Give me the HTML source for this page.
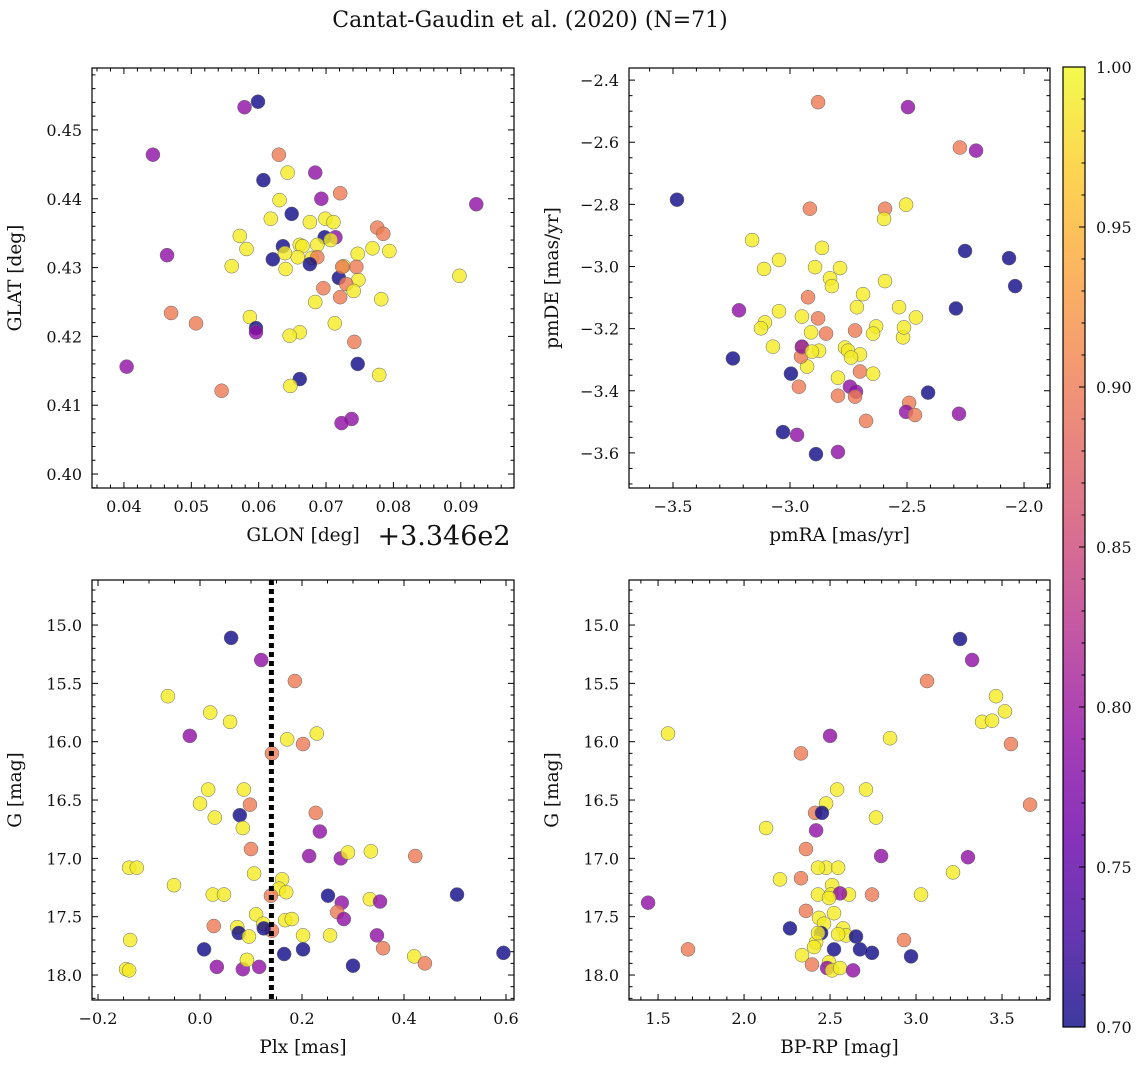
<!DOCTYPE html>
<html><head><meta charset="utf-8"><style>
body{margin:0;background:#fff;}
svg text{font-family:"DejaVu Serif","Liberation Serif",serif;fill:#111;}
</style></head><body>
<svg id="fig" width="1148" height="1067" xmlns="http://www.w3.org/2000/svg">
<defs>
<linearGradient id="plasma" x1="0" y1="1" x2="0" y2="0">
<stop offset="0" stop-color="#0d0887"/><stop offset="0.1" stop-color="#41049d"/><stop offset="0.2" stop-color="#6a00a8"/><stop offset="0.3" stop-color="#8f0da4"/><stop offset="0.4" stop-color="#b12a90"/><stop offset="0.5" stop-color="#cc4778"/><stop offset="0.6" stop-color="#e16462"/><stop offset="0.7" stop-color="#f2844b"/><stop offset="0.8" stop-color="#fca636"/><stop offset="0.9" stop-color="#fcce25"/><stop offset="1" stop-color="#f0f921"/>
</linearGradient>
</defs>
<text x="530" y="27" font-size="22" text-anchor="middle">Cantat-Gaudin et al. (2020) (N=71)</text>
</svg>
<script>
// ---- Panel 1: GLON vs GLAT (GLON offset +334.6) ----
const glon = [.0599,.0579,.0443,.0630,.0607,.0923,.0684,.0643,.0721,.0693,.0631,.0649,.0618,.0699,.0676,.0572,.0711,.0714,.0698,.0636,.0661,.0665,.0687,.0707,.0464,.0582,.0621,.0639,.0658,.0679,.0769,.0776,.0785,.0794,.0747,.0726,.0560,.0640,.0687,.0676,.0719,.0748,.0730,.0696,.0724,.0745,.0741,.0898,.0721,.0684,.0782,.0470,.0507,.0587,.0596,.0596,.0661,.0646,.0742,.0713,.0404,.0747,.0661,.0779,.0545,.0647,.0738,.0723];
const glat = [.4541,.4533,.4464,.4464,.4427,.4392,.4438,.4438,.4408,.4400,.4398,.4378,.4371,.4371,.4366,.4346,.4366,.4344,.4344,.4331,.4333,.4331,.4333,.4340,.4318,.4327,.4312,.4321,.4315,.4314,.4328,.4358,.4349,.4324,.4320,.4302,.4302,.4298,.4315,.4305,.4285,.4282,.4276,.4270,.4301,.4301,.4266,.4288,.4257,.4250,.4254,.4234,.4219,.4228,.4212,.4206,.4206,.4201,.4192,.4219,.4156,.4160,.4138,.4144,.4121,.4128,.4080,.4074];
const prob1 = [.70,.79,.79,.90,.70,.79,.79,.99,.90,.79,.99,.70,.99,.99,.99,.99,.99,.79,.70,.70,.99,.99,.99,.99,.79,.99,.70,.99,.99,.99,.99,.90,.90,.99,.99,.99,.99,.99,.90,.70,.70,.99,.90,.90,.90,.90,.99,.99,.90,.99,.99,.90,.90,.99,.70,.79,.99,.99,.90,.99,.79,.70,.70,.99,.90,.99,.79,.79];
// ---- Panel 2: proper motions ----
const pmra = [-3.483,-2.880,-2.496,-2.274,-2.205,-2.915,-2.594,-2.504,-2.598,-3.162,-2.252,-2.064,-2.038,-2.863,-3.047,-3.111,-2.893,-2.786,-2.829,-2.821,-2.594,-2.688,-2.923,-2.534,-2.462,-2.291,-3.218,-3.047,-3.107,-2.949,-2.880,-2.714,-2.846,-3.124,-2.910,-2.722,-2.632,-2.517,-2.513,-2.645,-3.244,-3.073,-2.949,-2.876,-2.765,-2.752,-2.927,-2.701,-2.953,-2.701,-2.795,-2.645,-2.949,-2.996,-2.962,-2.744,-2.718,-2.722,-2.410,-2.491,-2.504,-3.030,-2.466,-2.675,-2.278,-2.970,-2.889,-2.795,-2.795,-2.739,-2.906];
const pmde = [-2.785,-2.471,-2.487,-2.617,-2.627,-2.814,-2.814,-2.801,-2.847,-2.915,-2.950,-2.973,-3.063,-2.940,-2.979,-3.008,-3.002,-3.005,-3.038,-3.063,-3.047,-3.089,-3.099,-3.131,-3.164,-3.135,-3.141,-3.144,-3.180,-3.161,-3.167,-3.131,-3.216,-3.199,-3.212,-3.206,-3.193,-3.228,-3.196,-3.216,-3.296,-3.258,-3.261,-3.271,-3.261,-3.271,-3.322,-3.283,-3.290,-3.338,-3.358,-3.345,-3.258,-3.345,-3.387,-3.387,-3.403,-3.419,-3.406,-3.439,-3.468,-3.533,-3.478,-3.497,-3.474,-3.542,-3.604,-3.597,-3.416,-3.293,-3.274];
const prob2 = [.70,.90,.79,.90,.79,.90,.90,.99,.99,.99,.70,.70,.70,.99,.99,.99,.99,.99,.99,.99,.99,.99,.90,.99,.99,.70,.79,.99,.99,.99,.90,.99,.90,.99,.99,.90,.99,.99,.99,.99,.70,.99,.99,.99,.99,.99,.99,.99,.90,.90,.99,.99,.79,.70,.90,.79,.79,.90,.70,.90,.79,.70,.90,.90,.79,.79,.70,.79,.90,.99,.99];
// ---- Panel 3: parallax vs G ----
const plx = [.061,.120,.186,-.063,.020,.059,-.020,.171,.229,.202,.141,.016,.086,.000,.029,.078,.098,.084,.227,.235,.100,.214,-.139,-.124,-.051,.106,.161,.155,.276,.290,.335,.422,.025,.047,.139,.169,.251,.333,.504,.278,.353,.269,.282,.110,.167,.180,.124,.027,.073,.076,.096,.141,.202,.255,.125,.347,-.137,.008,.202,.165,.359,-.145,-.139,.033,.084,.116,.092,.300,.420,.441,.595];
const gmag3 = [15.11,15.30,15.48,15.61,15.75,15.83,15.95,15.98,15.93,16.02,16.10,16.41,16.41,16.53,16.65,16.63,16.54,16.74,16.61,16.77,16.92,16.98,17.08,17.08,17.23,17.13,17.18,17.26,17.00,16.95,16.94,16.98,17.31,17.31,17.32,17.29,17.32,17.35,17.31,17.38,17.37,17.46,17.52,17.48,17.53,17.52,17.56,17.58,17.59,17.64,17.67,17.62,17.66,17.66,17.60,17.66,17.70,17.78,17.78,17.82,17.77,17.95,17.96,17.93,17.95,17.93,17.87,17.92,17.84,17.90,17.81];
const prob3 = [.70,.79,.90,.99,.99,.99,.79,.99,.99,.90,.90,.99,.99,.99,.99,.70,.90,.99,.90,.79,.90,.79,.99,.99,.99,.99,.99,.99,.79,.99,.99,.90,.99,.99,.90,.99,.70,.99,.70,.79,.79,.90,.79,.99,.99,.99,.99,.90,.99,.70,.99,.90,.99,.99,.70,.79,.99,.70,.70,.70,.90,.99,.99,.79,.79,.79,.99,.70,.99,.90,.70];
const plxCut = [0.14];
// ---- Panel 4: colour-magnitude ----
const bprp = [3.256,3.326,3.064,3.465,3.517,3.384,3.442,3.552,1.558,2.500,2.849,2.331,2.541,2.709,2.477,3.663,2.767,2.128,2.413,2.453,2.419,2.360,2.797,3.302,3.215,2.477,2.430,2.547,2.209,2.512,2.506,2.430,2.610,2.558,2.331,2.744,2.494,3.029,2.360,2.436,2.465,2.576,2.523,2.448,2.593,2.547,2.419,2.430,2.651,2.407,2.267,2.930,1.442,1.674,2.523,2.674,2.744,2.337,2.395,2.494,2.483,2.512,2.558,2.634,2.971];
const gmag4 = [15.12,15.30,15.48,15.61,15.74,15.83,15.82,16.02,15.93,15.95,15.97,16.10,16.41,16.41,16.53,16.54,16.65,16.74,16.61,16.61,16.76,16.92,16.98,16.99,17.12,17.08,17.08,17.08,17.18,17.23,17.31,17.31,17.31,17.30,17.17,17.31,17.34,17.31,17.45,17.51,17.56,17.60,17.47,17.64,17.66,17.65,17.72,17.64,17.67,17.76,17.60,17.70,17.38,17.78,17.78,17.78,17.81,17.83,17.91,17.89,17.94,17.96,17.94,17.96,17.84];
const prob4 = [.70,.79,.90,.99,.99,.99,.99,.90,.99,.79,.99,.90,.99,.99,.99,.90,.99,.99,.90,.70,.79,.90,.79,.79,.99,.99,.99,.99,.99,.99,.99,.99,.99,.79,.90,.90,.99,.99,.90,.99,.99,.99,.99,.70,.99,.99,.99,.99,.70,.99,.70,.90,.79,.90,.70,.70,.70,.99,.90,.99,.79,.99,.99,.79,.70];
const xt1=[0.04,0.05,0.06,0.07,0.08,0.09], yt1=[0.40,0.41,0.42,0.43,0.44,0.45];
const xt2=[-3.5,-3.0,-2.5,-2.0], yt2=[-3.6,-3.4,-3.2,-3.0,-2.8,-2.6,-2.4];
const xt3=[-0.2,0.0,0.2,0.4,0.6], yt34=[15.0,15.5,16.0,16.5,17.0,17.5,18.0];
const xt4=[1.5,2.0,2.5,3.0,3.5];
const cbTicks=[0.70,0.75,0.80,0.85,0.90,0.95,1.00];

const NS="http://www.w3.org/2000/svg";
const svg=document.getElementById('fig');
function mk(tag,attrs,parent){const e=document.createElementNS(NS,tag);for(const k in attrs)e.setAttribute(k,attrs[k]);(parent||svg).appendChild(e);return e;}
const stops=['#0d0887','#41049d','#6a00a8','#8f0da4','#b12a90','#cc4778','#e16462','#f2844b','#fca636','#fcce25','#f0f921'];
function hex(h){return [1,3,5].map(i=>parseInt(h.substr(i,2),16));}
function cmap(v){let t=Math.max(0,Math.min(1,(v-0.7)/0.3))*10;const i=Math.min(9,Math.floor(t)),f=t-i;const a=hex(stops[i]),b=hex(stops[i+1]);return 'rgb('+a.map((c,k)=>Math.round(c+(b[k]-c)*f)).join(',')+')';}

function panel(o){
  const g=mk('g',{});
  
  
  const sx=v=>o.x0+(v-o.xmin)/(o.xmax-o.xmin)*(o.x1-o.x0);
  const sy=o.yinv?(v=>o.y0+(v-o.ymin)/(o.ymax-o.ymin)*(o.y1-o.y0)):(v=>o.y1-(v-o.ymin)/(o.ymax-o.ymin)*(o.y1-o.y0));
  for(let i=0;i<o.xs.length&&i<o.ys.length;i++){
    const c=mk('circle',{cx:sx(o.xs[i]),cy:sy(o.ys[i]),r:7,fill:cmap(o.cs[i]),'fill-opacity':0.8,stroke:'#666','stroke-width':0.5},g);
    
    
  }
  if(o.vline){for(const v of o.vline){const l=mk('line',{x1:sx(v),x2:sx(v),y1:o.y0,y2:o.y1,stroke:'#000','stroke-width':5,'stroke-dasharray':'5,4'},g);
    
    }}
  const fr=mk('rect',{x:o.x0,y:o.y0,width:o.x1-o.x0,height:o.y1-o.y0,fill:'none',stroke:'#000','stroke-width':1.2},g);
  
  
  const step=(o.xt[1]-o.xt[0])/o.xm;
  for(let v=o.xt[0]-o.xm*step;v<=o.xmax+1e-9;v+=step){if(v<o.xmin-1e-9)continue;const X=sx(v);const maj=Math.abs(Math.round((v-o.xt[0])/step)%o.xm)===0;const L=maj?6:3.5;
    mk('line',{x1:X,x2:X,y1:o.y1,y2:o.y1-L,stroke:'#000','stroke-width':1},g);mk('line',{x1:X,x2:X,y1:o.y0,y2:o.y0+L,stroke:'#000','stroke-width':1},g);}
  const ys=(o.yt[1]-o.yt[0])/o.ym;
  for(let v=o.yt[0]-o.ym*ys;v<=o.ymax+1e-9;v+=ys){if(v<o.ymin-1e-9)continue;const Y=sy(v);const maj=Math.abs(Math.round((v-o.yt[0])/ys)%o.ym)===0;const L=maj?6:3.5;
    mk('line',{x1:o.x0,x2:o.x0+L,y1:Y,y2:Y,stroke:'#000','stroke-width':1},g);mk('line',{x1:o.x1,x2:o.x1-L,y1:Y,y2:Y,stroke:'#000','stroke-width':1},g);}
  for(const v of o.xt){const t=mk('text',{x:sx(v),y:o.y1+24,'font-size':16,'text-anchor':'middle'},g);t.textContent=o.xf(v);
    
    }
  for(const v of o.yt){const t=mk('text',{x:o.x0-10,y:sy(v)+6,'font-size':16,'text-anchor':'end'},g);t.textContent=o.yf(v);
    
    }
  const xl=mk('text',{x:o.xlx||(o.x0+o.x1)/2,y:o.y1+53,'font-size':18.5,'text-anchor':'middle'},g);xl.textContent=o.xlab;
  
  
  const yx=o.x0-71,yc=(o.y0+o.y1)/2;
  const yl=mk('text',{x:yx,y:yc,'font-size':18.5,'text-anchor':'middle',transform:'rotate(-90 '+yx+' '+yc+')'},g);yl.textContent=o.ylab;
  
  
}
const m=v=>v.toFixed(1).replace('-','\u2212');
const m2=v=>v.toFixed(2);
panel({name:'glon-glat-panel',x0:92,x1:514,y0:68,y1:488,xmin:0.03526,xmax:0.0979,ymin:0.39797,ymax:0.4590,xs:glon,ys:glat,cs:prob1,xt:xt1,yt:yt1,xm:5,ym:5,xf:m2,yf:m2,xlab:'GLON [deg]',xlx:303,ylab:'GLAT [deg]'});
panel({name:'proper-motion-panel',x0:629,x1:1050,y0:68,y1:488,xmin:-3.688,xmax:-1.889,ymin:-3.713,ymax:-2.361,xs:pmra,ys:pmde,cs:prob2,xt:xt2,yt:yt2,xm:5,ym:4,xf:m,yf:m,xlab:'pmRA [mas/yr]',ylab:'pmDE [mas/yr]'});
panel({name:'parallax-magnitude-panel',x0:92,x1:514,y0:580,y1:1000,xmin:-0.2118,xmax:0.6157,ymin:14.614,ymax:18.214,yinv:true,xs:plx,ys:gmag3,cs:prob3,xt:xt3,yt:yt34,xm:4,ym:5,xf:m,yf:m,xlab:'Plx [mas]',ylab:'G [mag]',vline:plxCut});
panel({name:'color-magnitude-panel',x0:629,x1:1050,y0:580,y1:1000,xmin:1.331,xmax:3.779,ymin:14.614,ymax:18.214,yinv:true,xs:bprp,ys:gmag4,cs:prob4,xt:xt4,yt:yt34,xm:5,ym:5,xf:m,yf:m,xlab:'BP-RP [mag]',ylab:'G [mag]'});
const off=mk('text',{x:444,y:545,'font-size':27,'text-anchor':'middle'});off.textContent='+3.346e2';


const cb=mk('g',{});


mk('rect',{x:1063,y:67,width:22,height:960,fill:'url(#plasma)','fill-opacity':0.8},cb);
mk('rect',{x:1063,y:67,width:22,height:960,fill:'none',stroke:'#000','stroke-width':1.2},cb);
const cy=v=>1027-(v-0.7)/0.3*960;
for(let v=0.70;v<=1.0001;v+=0.01){const Y=cy(v);const maj=Math.round(v*100)%5===0;mk('line',{x1:1085,x2:1085-(maj?6:3.5),y1:Y,y2:Y,stroke:'#000','stroke-width':1},cb);}
for(const v of cbTicks){const t=mk('text',{x:1096,y:cy(v)+6,'font-size':16},cb);t.textContent=v.toFixed(2);
  
  }
</script>
</body></html>
